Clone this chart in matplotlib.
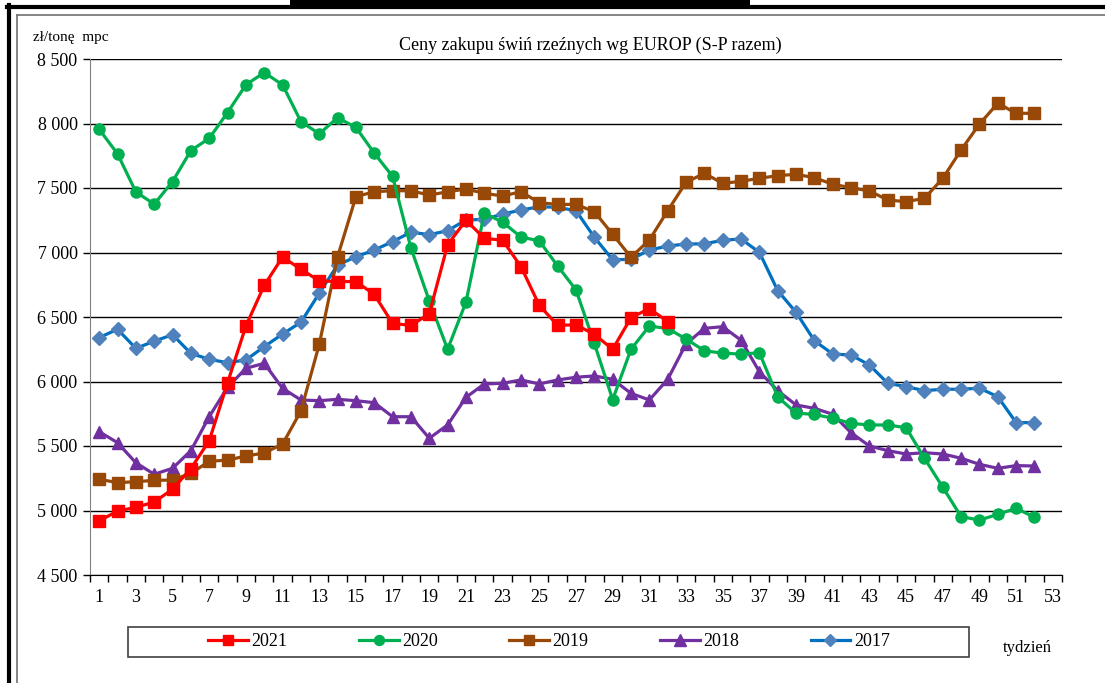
import numpy as np
import matplotlib
matplotlib.use("Agg")
import matplotlib.pyplot as plt
from matplotlib.lines import Line2D
from matplotlib.patches import Rectangle
from matplotlib.ticker import FuncFormatter, MultipleLocator, FixedLocator

plt.rcParams['font.family'] = ['Liberation Serif', 'DejaVu Serif']

W, H = 1105, 683

weeks = list(range(1, 53))
weeks_2021 = list(range(1, 33))

p2021 = [4920, 4995, 5025, 5065, 5165, 5325, 5540, 5990, 6430, 6745,
         6965, 6870, 6780, 6775, 6775, 6675, 6450, 6435, 6525, 7060,
         7250, 7110, 7095, 6890, 6590, 6435, 6440, 6365, 6250, 6495,
         6565, 6465]
p2020 = [7955, 7765, 7470, 7375, 7550, 7790, 7885, 8085, 8300, 8395,
         8300, 8015, 7920, 8045, 7970, 7770, 7590, 7035, 6625, 6250,
         6615, 7305, 7235, 7120, 7090, 6895, 6710, 6295, 5860, 6250,
         6430, 6410, 6330, 6238, 6220, 6212, 6223, 5880, 5755, 5745,
         5715, 5675, 5663, 5663, 5642, 5405, 5180, 4952, 4926, 4970,
         5017, 4947]
p2019 = [5242, 5216, 5223, 5234, 5236, 5288, 5381, 5391, 5422, 5446,
         5515, 5771, 6288, 6967, 7433, 7471, 7479, 7479, 7445, 7471,
         7492, 7459, 7438, 7471, 7386, 7373, 7373, 7316, 7141, 6963,
         7097, 7324, 7544, 7614, 7536, 7552, 7575, 7596, 7606, 7580,
         7529, 7502, 7477, 7407, 7394, 7420, 7575, 7795, 7996, 8157,
         8079, 8079]
p2018 = [5611, 5526, 5370, 5281, 5327, 5464, 5727, 5955, 6102, 6141,
         5947, 5857, 5851, 5862, 5851, 5836, 5727, 5727, 5560, 5663,
         5877, 5981, 5986, 6012, 5981, 6012, 6033, 6043, 6017, 5908,
         5857, 6017, 6291, 6412, 6425, 6320, 6076, 5929, 5818, 5792,
         5746, 5603, 5500, 5464, 5438, 5448, 5438, 5405, 5358, 5327,
         5348, 5345]
p2017 = [6340, 6405, 6257, 6312, 6363, 6218, 6172, 6146, 6167, 6270,
         6368, 6459, 6684, 6903, 6967, 7019, 7084, 7158, 7138, 7169,
         7252, 7257, 7298, 7329, 7355, 7350, 7324, 7118, 6944, 6947,
         7019, 7050, 7066, 7067, 7095, 7105, 7001, 6704, 6536, 6316,
         6213, 6205, 6128, 5986, 5960, 5929, 5940, 5940, 5948, 5882,
         5681, 5681]

xtick_labels = [str(w) for w in range(1, 54, 2)]

title = 'Ceny zakupu świń rzeźnych wg EUROP (S-P razem)'
ylabel = 'zł/tonę  mpc'
xlabel = 'tydzień'


def fx(px):
    return px / W


def fy(py):
    return 1 - py / H


fig = plt.figure(figsize=(W / 100, H / 100), dpi=100)
ax = fig.add_axes([fx(90), fy(575), fx(1062) - fx(90), fy(59) - fy(575)])

# series: (label, x, y, line colour, marker, marker colour, marker size)
series = [
    ('2017', weeks, p2017, '#0070C0', 'D', '#4F81BD', 7),
    ('2018', weeks, p2018, '#7030A0', '^', '#7030A0', 9),
    ('2019', weeks, p2019, '#984807', 's', '#984807', 8.5),
    ('2020', weeks, p2020, '#00B050', 'o', '#00B050', 8),
    ('2021', weeks_2021, p2021, '#FF0000', 's', '#FF0000', 8.5),
]
handles = {}
for lab, xs, ys, col, mk, mcol, ms in series:
    h, = ax.plot(xs, ys, color=col, lw=2.3, marker=mk, ms=ms,
                 markerfacecolor=mcol, markeredgecolor=mcol, label=lab)
    handles[lab] = h

ax.set_xlim(0.5, 53.5)
ax.set_ylim(4500, 8500)
ax.yaxis.set_major_locator(MultipleLocator(500))
ax.yaxis.set_major_formatter(FuncFormatter(lambda v, p: f'{int(v):,}'.replace(',', ' ')))
ax.grid(axis='y', color='black', lw=1.0)
ax.set_axisbelow(True)

ax.xaxis.set_major_locator(FixedLocator(range(1, 54, 2)))
ax.set_xticklabels(xtick_labels)
ax.xaxis.set_minor_locator(FixedLocator(np.arange(0.5, 54, 1)))
ax.tick_params(axis='x', which='major', length=0, pad=10, labelsize=13)
ax.tick_params(axis='x', which='minor', length=5, width=1, direction='out')
ax.tick_params(axis='y', length=5, width=1, direction='out', labelsize=13, pad=4)

for s in ['top', 'right']:
    ax.spines[s].set_visible(False)
ax.spines['left'].set_color('#808080')
ax.spines['bottom'].set_color('black')

fig.text(fx(590), fy(45), title, ha='center', va='center', fontsize=13)
fig.text(fx(33), fy(38), ylabel, ha='left', va='center', fontsize=11)
fig.text(fx(1003), fy(648), xlabel, ha='left', va='center', fontsize=12)

# legend box
fig.add_artist(Rectangle((fx(128), fy(657)), fx(969) - fx(128), fy(627) - fy(657),
                         transform=fig.transFigure, fill=False, edgecolor='#404040', lw=1.2))
order = ['2021', '2020', '2019', '2018', '2017']
fig.legend([handles[k] for k in order], order, loc='center',
           bbox_to_anchor=(fx(549), fy(642)), ncol=5, frameon=False,
           fontsize=13, handlelength=2.2, handletextpad=0.2, columnspacing=3.95,
           markerscale=0.9)

# frame decorations
fig.add_artist(Rectangle((fx(290), fy(6)), fx(750) - fx(290), fy(0) - fy(6),
                         transform=fig.transFigure, color='black', lw=0))
fig.add_artist(Line2D([fx(7), 1], [fy(6.5), fy(6.5)], transform=fig.transFigure,
                      color='black', lw=3))
fig.add_artist(Line2D([fx(9), fx(9)], [fy(5), 0], transform=fig.transFigure,
                      color='black', lw=3))
fig.add_artist(Line2D([fx(17), 1], [fy(14.5), fy(14.5)], transform=fig.transFigure,
                      color='#707070', lw=1.2))
fig.add_artist(Line2D([fx(17), fx(17)], [fy(14.5), 0], transform=fig.transFigure,
                      color='#707070', lw=1.2))

fig.savefig('out.png', dpi=100)
